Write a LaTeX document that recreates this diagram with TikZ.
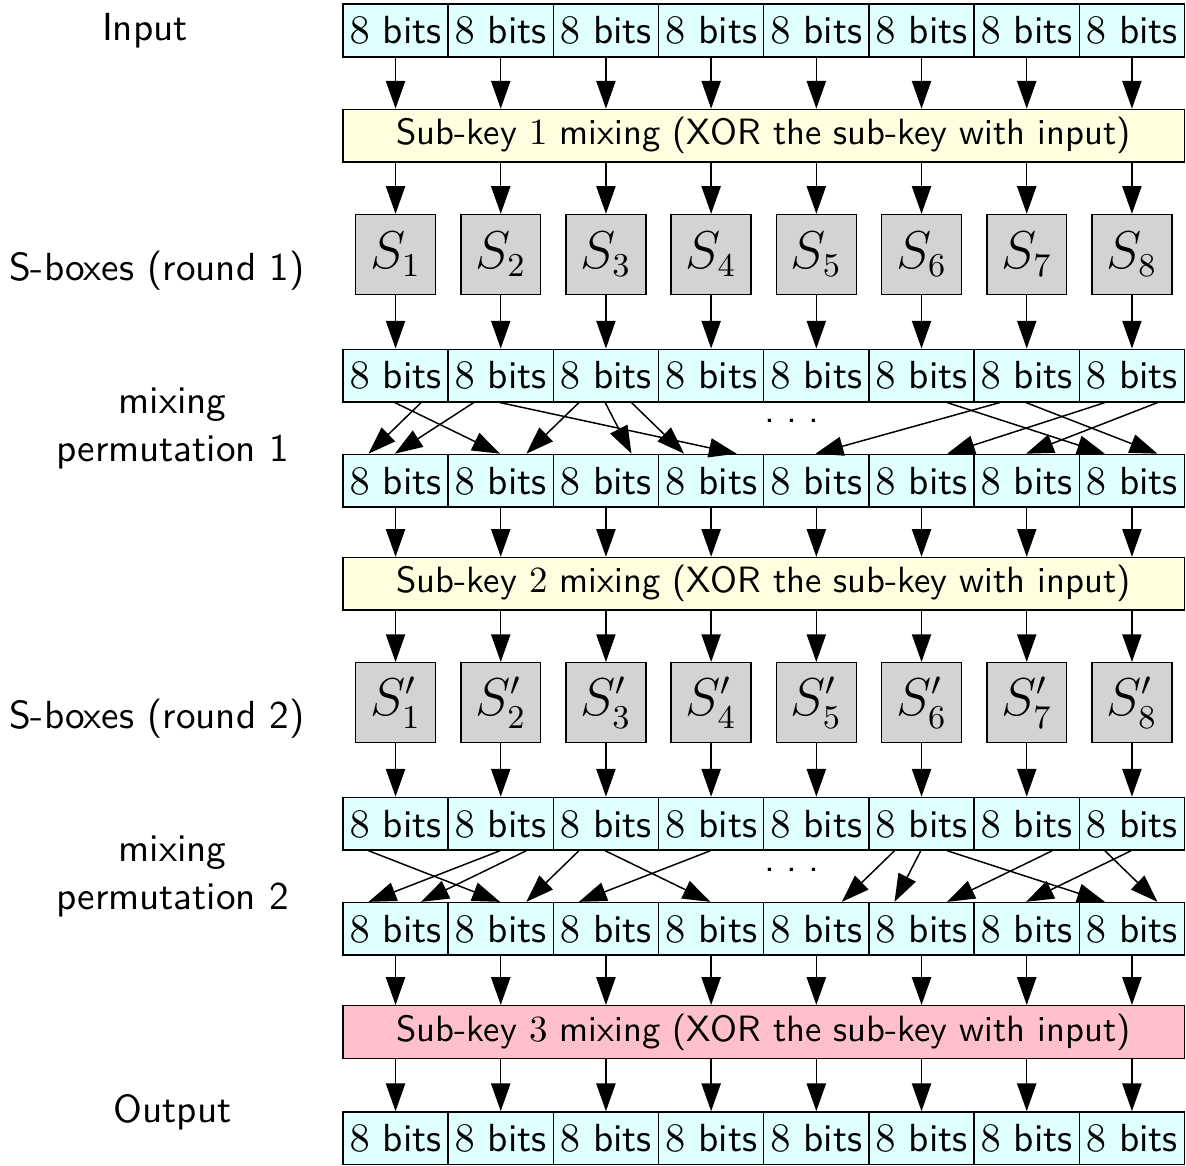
\documentclass[tikz,border=0pt]{standalone}
\usetikzlibrary{arrows.meta,calc}
\renewcommand{\familydefault}{\sfdefault}
\newcommand{\basefont}{\fontsize{10.6}{13}\selectfont}
\definecolor{cellcol}{HTML}{E0FFFF}
\definecolor{keycol}{HTML}{FFFFE0}
\definecolor{lastkeycol}{HTML}{FFC0CB}
\definecolor{sboxcol}{HTML}{D3D3D3}
\begin{document}
\begin{tikzpicture}[
    every node/.append style={font=\basefont},
    cell/.style={draw, fill=cellcol, minimum width=1cm, minimum height=0.5cm, inner sep=0pt},
    keybox/.style={draw, fill=keycol, minimum width=8cm, minimum height=0.5cm, inner sep=0pt,
                   font=\fontsize{9.9}{12}\selectfont},
    sbox/.style={draw, fill=sboxcol, minimum size=0.76cm, inner sep=0pt, font=\fontsize{13.5}{15}\selectfont},
    arr/.style={-{Triangle[length=7.5pt, width=5.2pt]}}
  ]
  \useasboundingbox (0,0) rectangle (11.274,-11.084);

  % Zeilen von Bloecken
  \foreach \k in {1,...,8} {
    \node[cell] (in\k) at (2.76+\k, -0.29) {$8$ bits};
    \node[sbox] (s\k) at (2.76+\k, -2.42) {$S_{\k}$};
    \node[cell] (ra\k) at (2.76+\k, -3.57) {$8$ bits};
    \node[cell] (rb\k) at (2.76+\k, -4.57) {$8$ bits};
    \node[sbox] (t\k) at (2.76+\k, -6.68) {$S'_{\k}$};
    \node[cell] (rc\k) at (2.76+\k, -7.83) {$8$ bits};
    \node[cell] (rd\k) at (2.76+\k, -8.83) {$8$ bits};
    \node[cell] (out\k) at (2.76+\k, -10.82) {$8$ bits};
  }

  % Sub-key Mischung
  \node[keybox] (key1) at (7.26, -1.29) {Sub-key $1$ mixing (XOR the sub-key with input)};
  \node[keybox] (key2) at (7.26, -5.55) {Sub-key $2$ mixing (XOR the sub-key with input)};
  \node[keybox, fill=lastkeycol] (key3) at (7.26, -9.81) {Sub-key $3$ mixing (XOR the sub-key with input)};

  % senkrechte Pfeile
  \foreach \k in {1,...,8} {
    \draw[arr] (in\k.south) -- (in\k.south |- key1.north);
    \draw[arr] (key1.south -| s\k.north) -- (s\k.north);
    \draw[arr] (s\k.south) -- (ra\k.north);
    \draw[arr] (rb\k.south) -- (rb\k.south |- key2.north);
    \draw[arr] (key2.south -| t\k.north) -- (t\k.north);
    \draw[arr] (t\k.south) -- (rc\k.north);
    \draw[arr] (rd\k.south) -- (rd\k.south |- key3.north);
    \draw[arr] (key3.south -| out\k.north) -- (out\k.north);
  }

  % Permutation 1
  \foreach \s/\t in {0.75/0.25, 0.5/1.5, 1.25/0.5, 1.5/3.75, 2.25/1.75, 2.5/2.75,
                     2.75/3.25, 5.75/7.25, 6.25/4.5, 6.5/7.75, 7.25/5.75, 7.75/6.5} {
    \draw[arr] ($(ra1.south west)+(\s,0)$) -- ($(rb1.north west)+(\t,0)$);
  }
  \node[inner sep=0pt] (dots1) at (7.53, -4.0) {.\kern3pt.\kern3pt.};

  % Permutation 2
  \foreach \s/\t in {0.25/1.5, 1.5/0.25, 1.75/0.75, 2.25/1.75, 2.5/3.5, 3.5/2.25,
                     5.25/4.75, 5.5/5.25, 5.75/7.25, 6.75/5.75, 7.25/7.75, 7.5/6.5} {
    \draw[arr] ($(rc1.south west)+(\s,0)$) -- ($(rd1.north west)+(\t,0)$);
  }
  \node[inner sep=0pt] (dots2) at (7.53, -8.27) {.\kern3pt.\kern3pt.};

  % Beschriftungen links
  \node (linput) at (1.378, -0.29) {Input};
  \node (lsbox1) at (1.49, -2.57) {S-boxes (round 1)};
  \node[align=center] (lperm1) at (1.64, -4.07) {mixing\\permutation 1};
  \node (lsbox2) at (1.49, -6.83) {S-boxes (round 2)};
  \node[align=center] (lperm2) at (1.64, -8.33) {mixing\\permutation 2};
  \node (loutput) at (1.64, -10.57) {Output};
\end{tikzpicture}
\end{document}
